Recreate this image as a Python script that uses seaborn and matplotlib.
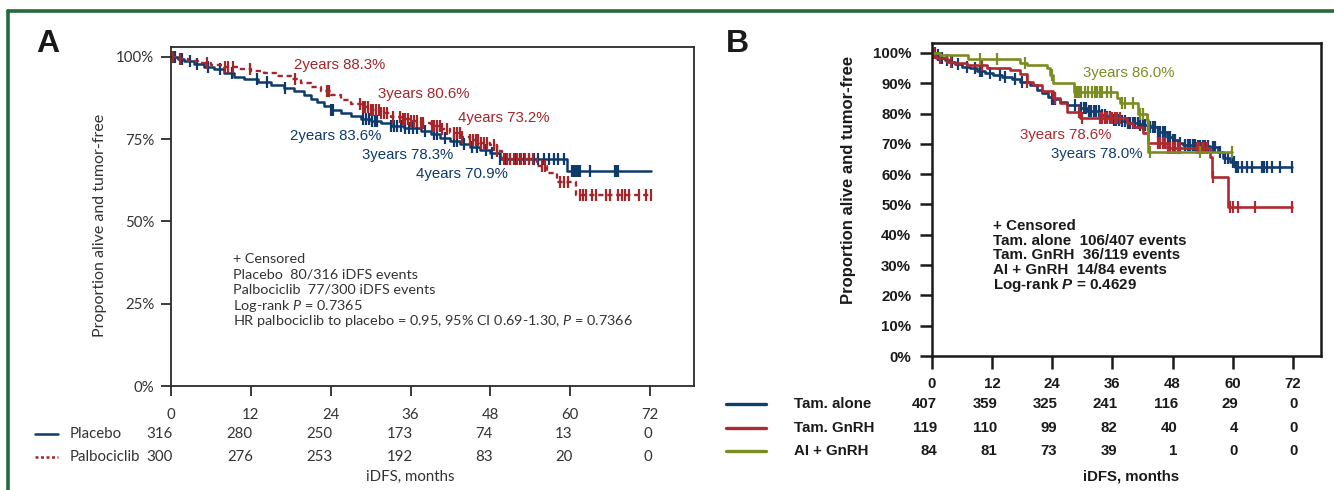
import numpy as np
import pandas as pd
import matplotlib
matplotlib.use("Agg")
import matplotlib.pyplot as plt
import seaborn as sns
from matplotlib import transforms
from matplotlib.lines import Line2D

# ---------------- data ----------------
month_ticks = [0, 12, 24, 36, 48, 60, 72]

# Panel A: Kaplan-Meier step points (time in months, survival)
placebo_t = [0, 1.0, 2.0, 3.5, 5.0, 6.5, 8.0, 9.5, 11.0, 13.0, 15.0, 17.0, 18.5, 20.0, 21.0, 22.0, 23.0,
             24.0, 25.5, 27.0, 28.5, 30.0, 31.5, 33.0, 35.0, 36.0, 37.5, 39.0, 40.5, 42.0, 43.5, 45.0,
             46.5, 48.0, 49.5, 59.5, 72.2]
placebo_s = [1.0, .993, .987, .978, .970, .962, .950, .940, .932, .925, .915, .905, .897, .885, .872, .862, .850,
             .838, .828, .820, .812, .806, .798, .790, .785, .783, .775, .765, .755, .745, .735, .725,
             .716, .709, .690, .652, .652]
palbo_t = [0, 1.0, 2.5, 4.0, 6.0, 8.0, 10.0, 12.0, 14.0, 16.0, 18.0, 19.5, 21.0, 22.5, 24.0, 25.5, 27.0,
           28.5, 30.0, 31.5, 33.0, 34.5, 36.0, 37.5, 39.0, 40.5, 42.0, 43.5, 45.0, 46.5, 48.0, 49.0, 49.8,
           55.0, 56.5, 58.0, 60.8, 72.2]
palbo_s = [1.0, .995, .988, .982, .975, .968, .962, .957, .950, .942, .932, .920, .907, .895, .883, .870, .858,
           .848, .838, .828, .818, .812, .806, .798, .790, .782, .770, .758, .748, .738, .732, .715, .690,
           .668, .648, .620, .580, .580]
placebo_cens = [0.6, 1.7, 2.9, 3.9, 5.6, 7.4, 9.2, 12.9, 14.4, 17.1, 24.0, 24.3, 28.8, 29.3, 29.8, 30.2, 30.6,
                31.0, 33.0, 33.5, 34.0, 34.6, 35.2, 35.8, 36.4, 37.0, 38.2, 39.5, 40.0, 41.2, 42.5, 43.0,
                44.0, 45.2, 46.0, 47.3, 48.2, 49.5, 50.3, 51.0, 51.8, 52.5, 53.0, 53.8, 54.5, 55.2, 56.0,
                56.8, 57.5, 58.2, 59.0, 60.3, 60.6, 60.9, 61.2, 61.5, 62.9, 66.8, 67.0, 67.2]
palbo_cens = [0.3, 1.4, 5.4, 8.1, 8.6, 9.3, 11.9, 18.6, 23.4, 23.8, 28.4, 28.8, 29.2, 29.6, 30.0, 30.4, 30.8,
              31.2, 31.6, 32.0, 32.5, 33.4, 34.4, 34.8, 35.2, 35.6, 36.0, 36.5, 37.0, 37.5, 37.9, 39.2,
              39.6, 40.0, 40.4, 40.8, 41.5, 42.5, 43.0, 43.4, 43.8, 45.0, 45.4, 45.8, 46.2, 46.6, 47.0,
              47.5, 48.5, 49.0, 50.0, 50.5, 51.0, 51.5, 52.0, 52.6, 53.2, 53.8, 54.4, 55.8, 56.2, 58.5,
              59.0, 59.6, 61.4, 61.9, 62.4, 63.2, 63.9, 65.3, 66.0, 67.2, 67.8, 68.3, 68.9, 70.4, 71.4, 72.2]
a_groups = ["Placebo", "Palbociclib"]
placebo_risk = [316, 280, 250, 173, 74, 13, 0]
palbo_risk = [300, 276, 253, 192, 83, 20, 0]
a_notes = ["+ Censored",
           "Placebo  80/316 iDFS events",
           "Palbociclib  77/300 iDFS events",
           "Log-rank $\\mathit{P}$ = 0.7365",
           "HR palbociclib to placebo = 0.95, 95% CI 0.69-1.30, $\\mathit{P}$ = 0.7366"]
a_year_labels = [("2years 88.3%", "palbo"), ("3years 80.6%", "palbo"), ("4years 73.2%", "palbo"),
                 ("2years 83.6%", "placebo"), ("3years 78.3%", "placebo"), ("4years 70.9%", "placebo")]

# Panel B
tam_t = [0, 0.8, 1.6, 2.5, 3.5, 4.5, 6.0, 7.5, 9.0, 10.5, 12.2, 14.0, 16.0, 17.5, 19.5, 20.9, 22.0, 23.2,
         24.0, 25.5, 27.0, 29.5, 31.0, 33.5, 35.0, 36.0, 37.5, 39.0, 41.5, 43.5, 45.0, 46.8, 48.0, 49.0,
         50.0, 53.0, 55.4, 57.0, 58.0, 59.5, 60.5, 71.8]
tam_s = [1.0, .993, .982, .976, .971, .963, .955, .949, .940, .933, .927, .920, .913, .905, .893, .878, .868,
         .855, .848, .839, .830, .817, .808, .795, .788, .780, .775, .768, .762, .755, .740, .724, .712,
         .703, .696, .692, .690, .672, .653, .640, .625, .625]
gnrh_t = [0, 0.7, 2.9, 4.3, 6.9, 11.0, 15.5, 17.5, 18.9, 20.2, 22.0, 24.2, 25.5, 26.9, 29.5, 36.5, 38.9,
          40.0, 42.1, 43.1, 46.8, 55.4, 55.8, 59.1, 71.8]
gnrh_s = [1.0, .982, .971, .966, .960, .952, .944, .930, .905, .894, .875, .850, .834, .806, .786, .786, .770,
          .757, .735, .703, .686, .658, .592, .493, .493]
ai_t = [0, 1.6, 7.2, 17.5, 18.9, 22.9, 23.5, 24.2, 28.3, 36.9, 37.5, 41.1, 42.9, 43.1, 59.8]
ai_s = [1.0, .993, .979, .966, .960, .949, .927, .900, .872, .850, .834, .800, .780, .674, .674]
tam_cens = [0.5, 1.2, 2.0, 3.0, 4.0, 5.2, 7.0, 8.5, 9.5, 10.0, 11.5, 13.5, 14.5, 16.5, 18.0, 24.0, 24.3, 24.6,
            28.5, 29.8, 30.3, 30.8, 31.3, 31.8, 32.3, 32.8, 33.3, 34.0, 34.5, 35.0, 35.5, 36.3, 36.8, 37.3,
            38.0, 38.5, 39.0, 39.5, 40.0, 40.5, 41.0, 41.5, 42.0, 42.5, 43.0, 43.5, 44.0, 44.5, 45.0, 45.5,
            46.0, 46.5, 47.0, 47.5, 48.0, 48.5, 49.5, 50.5, 51.0, 51.5, 52.0, 52.5, 53.0, 53.5, 54.0, 54.5,
            55.0, 56.0, 56.5, 57.5, 58.5, 59.0, 60.0, 60.3, 60.6, 61.0, 61.8, 62.8, 63.8, 65.8, 66.2, 66.8,
            67.8, 69.4, 71.8]
gnrh_cens = [0.4, 1.5, 3.8, 10.0, 19.0, 24.5, 29.3, 30.0, 33.5, 34.0, 34.5, 35.0, 35.5, 36.0, 36.5, 37.0,
             37.5, 45.0, 45.5, 46.0, 46.5, 47.0, 47.5, 48.0, 48.5, 49.0, 49.5, 52.8, 53.3, 53.8, 54.3, 54.8,
             56.0, 59.4, 60.0, 61.0, 64.4, 71.8]
ai_cens = [9.6, 13.0, 18.5, 24.0, 28.6, 29.0, 29.4, 29.8, 30.5, 31.2, 32.0, 32.5, 33.0, 33.5, 34.0, 35.0,
           35.8, 37.9, 38.5, 40.0, 41.5, 42.0, 43.0, 43.5, 53.5, 59.8]
b_groups = ["Tam. alone", "Tam. GnRH", "AI + GnRH"]
tam_risk = [407, 359, 325, 241, 116, 29, 0]
gnrh_risk = [119, 110, 99, 82, 40, 4, 0]
ai_risk = [84, 81, 73, 39, 1, 0, 0]
b_notes = ["+ Censored",
           "Tam. alone  106/407 events",
           "Tam. GnRH  36/119 events",
           "AI + GnRH  14/84 events",
           "Log-rank $\\mathbf{P}$ = 0.4629"]
b_year_labels = [("3years 86.0%", "ai"), ("3years 78.6%", "gnrh"), ("3years 78.0%", "tam")]

# ---------------- style ----------------
sns.set_theme(style="white")
plt.rcParams["font.family"] = ["Liberation Sans", "DejaVu Sans"]
plt.rcParams["mathtext.fontset"] = "custom"
plt.rcParams["mathtext.it"] = "Lato:italic"
plt.rcParams["mathtext.rm"] = "Lato"
plt.rcParams["mathtext.bf"] = "Liberation Sans:bold:italic"

FA = ["Lato", "Liberation Sans", "DejaVu Sans"]
FB = ["Liberation Sans", "DejaVu Sans"]
NAVY_A = "#0d3a6b"
RED_A = "#a3262b"
NAVY_B = "#123d6e"
RED_B = "#ad2a30"
GREEN_B = "#7b8d22"
GREY_T = "#333333"

W, H = 1334, 490
fig = plt.figure(figsize=(W / 100, H / 100), dpi=100)


def add_ax(l, r, t, b):
    return fig.add_axes([l / W, 1 - b / H, (r - l) / W, (b - t) / H])


def fy(py):
    return 1 - py / H


def step_at(t, s, c):
    idx = np.searchsorted(np.asarray(t), np.asarray(c), side="right") - 1
    return np.asarray(s)[idx]


def km(ax, t, s, cens, color, lw, ls="-", ms=8, mew=1.4):
    sns.lineplot(x=t, y=s, ax=ax, color=color, lw=lw, drawstyle="steps-post",
                 estimator=None, sort=False, linestyle=ls)
    cy = step_at(t, s, cens)
    ax.plot(cens, cy, linestyle="none", marker="|", color=color, markersize=ms, mew=mew)


# ---------------- green frame ----------------
fig.add_artist(Line2D([8 / W, 8 / W], [fy(11), 0], color="#236b3c", lw=2.6, transform=fig.transFigure))
fig.add_artist(Line2D([8 / W, 1], [fy(11), fy(11)], color="#236b3c", lw=2.6, transform=fig.transFigure))

# ---------------- Panel A ----------------
axA = add_ax(171, 694, 47, 386)
km(axA, placebo_t, placebo_s, placebo_cens, NAVY_A, 1.8, "-", ms=8, mew=1.6)
km(axA, palbo_t, palbo_s, palbo_cens, RED_A, 1.7, (0, (2.2, 1.6)), ms=8, mew=1.6)
axA.set_xlim(0, 78.6)
axA.set_ylim(0, 1.030)
axA.set_xticks(month_ticks)
axA.set_xticklabels([str(m) for m in month_ticks], family=FA, fontsize=10.8, color=GREY_T)
axA.set_yticks([0, .25, .5, .75, 1.0])
axA.set_yticklabels(["0%", "25%", "50%", "75%", "100%"], family=FA, fontsize=10.8, color=GREY_T)
for sp in axA.spines.values():
    sp.set_color("#2a2a2a")
    sp.set_linewidth(1.3)
axA.tick_params(axis="both", direction="out", length=7, width=1.3, color="#2a2a2a",
                bottom=True, left=True, pad=5)
axA.tick_params(axis="x", pad=9)
axA.set_xlabel("")
axA.set_ylabel("Proportion alive and tumor-free", family=FA, fontsize=11.5, color=GREY_T)
axA.yaxis.set_label_coords(-0.122, 0.475)

a_pos = [(294, 65), (378, 94), (458, 118), (290, 136), (362, 155), (416, 174)]
for (lab, grp), (px, py) in zip(a_year_labels, a_pos):
    fig.text(px / W, fy(py), lab, color=RED_A if grp == "palbo" else NAVY_A,
             family=FB, fontsize=10.8, ha="left", va="center")

for i, line in enumerate(a_notes):
    fig.text(233 / W, fy(259 + 15.5 * i), line, family=FA, fontsize=10.4, color=GREY_T,
             ha="left", va="center")

trA = transforms.blended_transform_factory(axA.transData, fig.transFigure)
for grp, risk, py, col, ls in [(a_groups[0], placebo_risk, 434, NAVY_A, "-"),
                               (a_groups[1], palbo_risk, 457, RED_A, (0, (1.2, 1.0)))]:
    fig.add_artist(Line2D([35 / W, 58 / W], [fy(py), fy(py)], color=col, lw=1.8, linestyle=ls,
                          transform=fig.transFigure))
    fig.text(70 / W, fy(py), grp, family=FA, fontsize=10.8, color=GREY_T, ha="left", va="center")
    for m, n in zip(month_ticks, risk):
        axA.text(m + 0.3, fy(py), str(n), transform=trA, family=FA, fontsize=10.8, color=GREY_T,
                 ha="right", va="center")
axA.text(36, fy(477), "iDFS, months", transform=trA, family=FA, fontsize=10.8, color=GREY_T,
         ha="center", va="center")

fig.text(36 / W, fy(44), "A", family=FB, fontsize=23, fontweight="bold", color="#1a1a1a",
         ha="left", va="center")

# ---------------- Panel B ----------------
axB = add_ax(932, 1321, 43, 356)
km(axB, tam_t, tam_s, tam_cens, NAVY_B, 1.9, ms=9, mew=1.6)
km(axB, gnrh_t, gnrh_s, gnrh_cens, RED_B, 1.9, ms=9, mew=1.6)
km(axB, ai_t, ai_s, ai_cens, GREEN_B, 1.9, ms=9, mew=1.6)
axB.set_xlim(0, 77.6)
axB.set_ylim(0, 1.033)
axB.set_xticks(month_ticks)
axB.set_xticklabels([str(m) for m in month_ticks], family=FB, fontsize=10.8,
                    fontweight="bold", color="#1a1a1a")
yt = [i / 10 for i in range(11)]
axB.set_yticks(yt)
axB.set_yticklabels([f"{i * 10}%" for i in range(11)], family=FB, fontsize=10.8,
                    fontweight="bold", color="#1a1a1a")
for sp in axB.spines.values():
    sp.set_color("#1a1a1a")
    sp.set_linewidth(1.8)
axB.tick_params(axis="both", direction="out", length=9, width=1.8, color="#1a1a1a",
                bottom=True, left=True, pad=6)
axB.set_xlabel("")
axB.set_ylabel("Proportion alive and tumor-free", family=FB, fontsize=12, fontweight="bold",
               color="#1a1a1a")
axB.yaxis.set_label_coords(-0.195, 0.562)

b_pos = [(1083, 73), (1020, 135), (1051, 154)]
b_col = {"tam": NAVY_B, "gnrh": RED_B, "ai": GREEN_B}
for (lab, grp), (px, py) in zip(b_year_labels, b_pos):
    fig.text(px / W, fy(py), lab, color=b_col[grp], family=FB, fontsize=10.8, ha="left", va="center")

for i, line in enumerate(b_notes):
    fig.text(993 / W, fy(226 + 14.7 * i), line, family=FB, fontsize=10.9, fontweight="bold",
             color="#1a1a1a", ha="left", va="center")

trB = transforms.blended_transform_factory(axB.transData, fig.transFigure)
for grp, risk, py, col in [(b_groups[0], tam_risk, 404, NAVY_B), (b_groups[1], gnrh_risk, 428, RED_B),
                           (b_groups[2], ai_risk, 451, GREEN_B)]:
    fig.add_artist(Line2D([726 / W, 766 / W], [fy(py), fy(py)], color=col, lw=2.4,
                          transform=fig.transFigure))
    fig.text(794 / W, fy(py), grp, family=FB, fontsize=10.8, fontweight="bold", color="#1a1a1a",
             ha="left", va="center")
    for m, n in zip(month_ticks, risk):
        axB.text(m + 1.0, fy(py), str(n), transform=trB, family=FB, fontsize=10.8, fontweight="bold",
                 color="#1a1a1a", ha="right", va="center")
axB.text(1131 / W, fy(476), "iDFS, months", transform=fig.transFigure, family=FB, fontsize=10.8,
         fontweight="bold", color="#1a1a1a", ha="center", va="center")

fig.text(726 / W, fy(44), "B", family=FB, fontsize=23, fontweight="bold", color="#1a1a1a",
         ha="left", va="center")

fig.savefig("out.png", dpi=100)
